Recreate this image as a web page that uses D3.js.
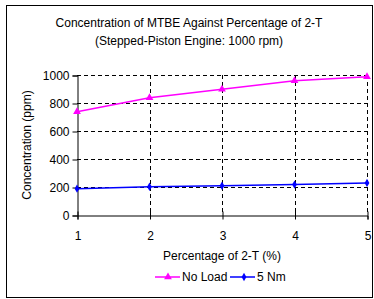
<!DOCTYPE html>
<html>
<head>
<meta charset="utf-8" />
<script src="https://d3js.org/d3.v7.min.js"></script>
<style>
body { margin: 0; background: #fff; }
text { font-family: "Liberation Sans", Arial, sans-serif; fill: #000; }
</style>
</head>
<body>
<div id="chart"></div>
<script>
var percent = [1, 2, 3, 4, 5];
var noLoad = [738, 838, 898, 959, 988];
var fiveNm = [188, 202, 209, 217, 229];
var yTicks = [0, 200, 400, 600, 800, 1000];

var width = 374, height = 299;
var svg = d3.select("#chart").append("svg").attr("width", width).attr("height", height);

// outer frame
svg.append("rect").attr("x", 6.5).attr("y", 5.5).attr("width", 366).attr("height", 292)
  .attr("fill", "#fff").attr("stroke", "#000").attr("stroke-width", 1);

var x = d3.scaleLinear().domain([1, 5]).range([77, 367]);
var y = d3.scaleLinear().domain([0, 1000]).range([215, 75]);

// title
svg.append("text").attr("x", 189).attr("y", 27).attr("text-anchor", "middle")
  .attr("font-size", "12px").text("Concentration of MTBE Against Percentage of 2-T");
svg.append("text").attr("x", 189).attr("y", 45).attr("text-anchor", "middle")
  .attr("font-size", "12px").text("(Stepped-Piston Engine: 1000 rpm)");

// grid
var grid = svg.append("g").attr("stroke", "#000").attr("stroke-dasharray", "4,3").attr("stroke-width", 1);
grid.selectAll(".hg").data(yTicks.filter(function(d){ return d > 0; })).enter().append("line")
  .attr("x1", 77).attr("x2", 367)
  .attr("y1", function(d){ return Math.round(y(d)) + 0.5; })
  .attr("y2", function(d){ return Math.round(y(d)) + 0.5; });
grid.selectAll(".vg").data(percent.filter(function(d){ return d > 1; })).enter().append("line")
  .attr("y1", 75).attr("y2", 215)
  .attr("x1", function(d){ return Math.round(x(d)) + 0.5; })
  .attr("x2", function(d){ return Math.round(x(d)) + 0.5; });

// axes
var yAxis = d3.axisLeft(y).tickValues(yTicks).tickFormat(d3.format("d")).tickSize(5).tickPadding(3);
var gy = svg.append("g").attr("transform", "translate(77.5,0.5)").call(yAxis);
var xAxis = d3.axisBottom(x).tickValues(percent).tickFormat(d3.format("d")).tickSize(4).tickPadding(12);
var gx = svg.append("g").attr("transform", "translate(0.5,215.5)").call(xAxis);
[gy, gx].forEach(function(g){
  g.selectAll("path,line").attr("stroke", "#000");
  g.selectAll("text").attr("font-size", "12px").attr("font-family", "Liberation Sans, Arial, sans-serif");
});
gx.selectAll(".tick line").attr("y1", -4).attr("y2", 4);

// axis titles
svg.append("text").attr("transform", "translate(31,145) rotate(-90)").attr("text-anchor", "middle")
  .attr("font-size", "12px").text("Concentration (ppm)");
svg.append("text").attr("x", 222).attr("y", 260).attr("text-anchor", "middle")
  .attr("font-size", "12px").text("Percentage of 2-T (%)");

// lines
var line = d3.line().x(function(d, i){ return x(percent[i]); }).y(function(d){ return y(d); });
var tri = d3.symbol().type(d3.symbolTriangle).size(26);
var dia = d3.symbol().type(d3.symbolDiamond).size(20);

svg.append("path").datum(noLoad).attr("d", line).attr("fill", "none").attr("stroke", "#ff00ff").attr("stroke-width", 1.5);
svg.selectAll(".m1").data(noLoad).enter().append("path").attr("d", tri)
  .attr("transform", function(d, i){ return "translate(" + x(percent[i]) + "," + y(d) + ")"; })
  .attr("fill", "#ff00ff");

svg.append("path").datum(fiveNm).attr("d", line).attr("fill", "none").attr("stroke", "#0000ff").attr("stroke-width", 1.5);
svg.selectAll(".m2").data(fiveNm).enter().append("path").attr("d", dia)
  .attr("transform", function(d, i){ return "translate(" + x(percent[i]) + "," + y(d) + ")"; })
  .attr("fill", "#0000ff");

// legend
var lg = svg.append("g").attr("transform", "translate(0,277)");
lg.append("line").attr("x1", 155).attr("x2", 180).attr("y1", 0).attr("y2", 0).attr("stroke", "#ff00ff").attr("stroke-width", 1.5);
lg.append("path").attr("d", tri).attr("transform", "translate(168,0)").attr("fill", "#ff00ff");
lg.append("text").attr("x", 182).attr("y", 4).attr("font-size", "12px").text("No Load");
lg.append("line").attr("x1", 230).attr("x2", 255).attr("y1", 0).attr("y2", 0).attr("stroke", "#0000ff").attr("stroke-width", 1.5);
lg.append("path").attr("d", dia).attr("transform", "translate(244,0)").attr("fill", "#0000ff");
lg.append("text").attr("x", 257).attr("y", 4).attr("font-size", "12px").text("5 Nm");
</script>
</body>
</html>
